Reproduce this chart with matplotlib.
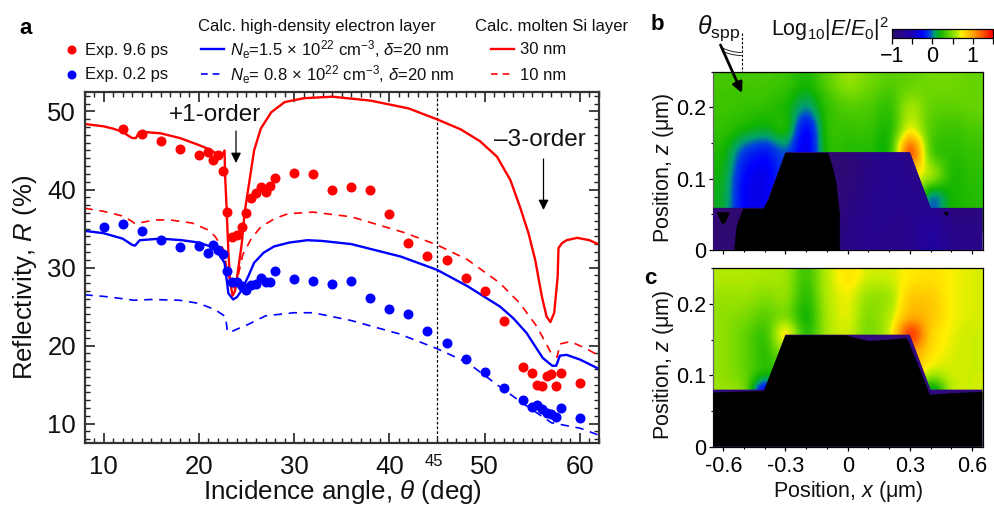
import numpy as np
import matplotlib
matplotlib.use("Agg")
import matplotlib.pyplot as plt
from matplotlib.colors import LinearSegmentedColormap
from matplotlib.patches import Polygon, Arc

plt.rcParams['font.family'] = ['Liberation Sans', 'DejaVu Sans']
plt.rcParams['mathtext.fontset'] = 'custom'
plt.rcParams['mathtext.rm'] = 'Liberation Sans'
plt.rcParams['mathtext.it'] = 'Liberation Sans:italic'
plt.rcParams['mathtext.bf'] = 'Liberation Sans:bold'

# ---- panel a data ----
exp_angle_red = [12,14,16,18,20,21,21.5,22,22.5,23,23.5,24,24.5,25,25.5,26,26.5,27,27.5,28,30,32,34,36,38,40,42,44,46,48,50,52,54,55,55.5,56,56.5,57,57.5,58,60]
exp_red = [47.8,47.1,46.2,45.2,44.4,44.8,43.8,44.4,42.4,37.1,33.9,34.2,35.2,37,38.9,39.5,40.3,39.7,40.5,41.5,42.1,42,40,40.3,40,36.9,33.1,31.5,30.9,28.6,27,23.2,17.3,16.5,15,14.8,16.1,16.4,14.8,16.5,15.2]
exp_angle_blue = [10,12,14,16,18,20,21,21.5,22,22.5,23,23.5,24,24.5,25,25.5,26,26.5,27,27.5,28,30,32,34,36,38,40,42,44,46,48,50,52,54,55,55.5,56,56.5,57,57.5,58,60]
exp_blue = [35.2,35.6,34.7,33.5,32.6,32.8,31.8,32.9,32.3,31.7,29.5,28.2,28.1,27.6,27.1,27.8,27.9,28.7,28.2,28.1,29.5,28.5,28.3,27.9,28.3,26.1,24.7,24,21.9,20.3,18.3,16.6,14.6,13,12.1,12.4,11.8,11.4,11.2,10.8,12,10.7]

molten30_x = [8,10,11,12,12.6,13,13.4,13.7,14,16,18,20,21,22,22.4,22.7,22.75,22.9,23.1,23.3,23.55,23.8,24.1,24.5,24.8,25.3,25.8,26.5,27.6,29,31,34,38,42,45,47.5,49.5,51.3,52.7,53.7,54.6,55.3,56,56.5,56.9,57.3,57.66,57.75,58.1,58.6,59.7,61,61.9]
molten30_y = [48.4,48.1,47.8,47.4,46.9,46.6,46.6,47.3,47.4,47.2,46.6,45.7,45.2,44.5,44.2,45,42,38,32,28,26.4,27,29.5,33,37,41,45,47.8,49.9,51.2,51.7,51.9,51.4,50.4,49,47.7,46.2,44.2,41.2,37.8,34.4,31,26.3,23.7,23,24.2,28.8,32.5,33.1,33.5,33.8,33.5,33]
molten10_x = [8,10,12,13,13.3,13.7,15.4,17,19.3,21,21.7,22.6,23,23.5,23.8,24.1,24.6,25.5,26.5,28,29.4,32,36,41.5,45,48.2,51.6,53.7,55.5,56.9,57.6,57.9,59,60.5,62]
molten10_y = [37.6,37.2,36.6,35.9,35.6,35.7,36.1,36.1,35.7,34.8,34,32.3,29.5,27.3,27.5,28.8,31.6,33.7,35.2,36.3,36.9,37.1,36.5,34.5,32.9,31,28,25.4,22.4,19.2,18.5,20.2,20.5,19.7,18.7]
elec15_x = [8,10,12,13,13.3,13.8,16,18.2,20,21.7,22.7,23.1,23.6,24,24.5,25.2,25.8,26.8,27.9,29.5,31.4,33,36,41.2,45,48.2,51.6,53,54.4,55.3,56.1,57.1,57.5,57.9,58.6,60,62]
elec15_y = [34.7,34.4,33.7,32.9,32.8,33.5,33.7,33.5,33.2,32.5,30.6,26.7,25.9,26.2,27.1,28.9,30.6,31.9,32.7,33.2,33.5,33.4,33,31.4,29.7,27.6,25,23.5,21.6,19.9,18.4,17.4,17.4,18.7,18.8,18.2,17]
elec08_x = [8,10,12,13.2,15,18,20,21.7,22.8,23,23.3,24,25,27,30,32,36,41,45,48.2,51.6,54,57,60,62]
elec08_y = [26.5,26.3,26,25.8,25.9,25.8,25.4,24.6,23.7,21.8,21.7,22.1,22.6,23.8,24.2,24.2,23.2,21.5,19.6,17.8,14.7,12.6,10.1,9.4,8.5]

# ---- panels b, c: field (log10 |E/E0|^2) ----
# columns are x = -0.6 ... 0.6 in steps of 0.1, first row is the top one
b_rows = [
 [0.33,0.33,0.33,0.30,0.22,0.38,0.52,0.45,0.38,0.42,0.45,0.45,0.42],
 [0.32,0.30,0.28,0.22,0.05,0.28,0.38,0.36,0.30,0.55,0.42,0.40,0.42],
 [0.28,0.20,0.15,0.20,-0.22,0.25,0.30,0.30,0.25,0.70,0.38,0.32,0.35],
 [0.20,-0.08,-0.18,-0.05,-0.30,0.22,0.25,0.25,0.27,1.20,0.40,0.27,0.30],
 [0.15,-0.22,-0.30,-0.10,-0.30,0.20,0.25,0.25,0.30,0.75,0.55,0.25,0.27],
 [0.12,-0.25,-0.30,-0.05,-0.30,0.20,0.20,0.20,0.25,0.60,0.02,0.20,0.25],
 [0.12,-0.25,-0.30,-0.05,-0.30,0.20,0.20,0.20,0.25,0.60,0.02,0.20,0.25],
]
c_rows = [
 [0.60,0.60,0.58,0.55,0.33,0.62,0.75,0.66,0.66,0.75,0.78,0.72,0.68],
 [0.55,0.55,0.50,0.52,0.28,0.60,0.70,0.55,0.58,0.85,0.85,0.72,0.68],
 [0.52,0.48,0.40,0.48,0.22,0.58,0.68,0.50,0.62,0.95,0.88,0.72,0.68],
 [0.52,0.42,0.32,0.72,0.28,0.58,0.66,0.48,0.68,1.30,0.85,0.70,0.66],
 [0.52,0.42,0.28,0.50,0.30,0.58,0.66,0.50,0.68,1.00,0.78,0.68,0.66],
 [0.52,0.42,0.22,0.30,0.30,0.58,0.66,0.50,0.68,0.90,0.62,0.66,0.66],
 [0.55,0.45,-0.25,0.30,0.30,0.58,0.66,0.50,0.68,0.80,0.10,0.60,0.66],
]
b_metal_rows = [
 [-1,-1,-1,-1,-1,-1,-0.95,-0.85,-0.7,-0.85,-0.9,-1,-1],
 [-1,-1,-1,-1,-1,-1,-0.95,-0.8,-0.7,-0.75,-0.8,-1,-1],
 [-1,-1,-1,-1,-1,-1,-0.85,-0.75,-0.75,-0.8,-0.65,-0.9,-0.85],
 [-0.95,-1,-1,-1,-1,-1,-0.8,-0.75,-0.8,-0.8,-0.55,-0.8,-0.8],
]
b_z_step, c_z_step = 0.0323, 0.02657
b_metal = [(-0.65,0),(-0.65,0.059),(-0.4,0.059),(-0.3,0.137),(0.3,0.137),(0.4,0.059),(0.65,0.059),(0.65,0)]
b_black = [(-0.547,0),(-0.536,0.033),(-0.504,0.058),(-0.407,0.058),(-0.383,0.07),(-0.3,0.136),(-0.094,0.136),(-0.078,0.122),(-0.054,0.094),(-0.038,0.051),(-0.038,0)]
b_blob1 = [(-0.632,0.053),(-0.568,0.053),(-0.59,0.038),(-0.605,0.036)]
b_blob2 = [(0.462,0.054),(0.49,0.052),(0.475,0.047)]
c_metal = [(-0.65,0),(-0.65,0.08),(-0.4,0.08),(-0.3,0.157),(0.3,0.157),(0.4,0.08),(0.65,0.08),(0.65,0)]
c_black = [(-0.65,0),(-0.65,0.076),(-0.405,0.078),(-0.3,0.156),(-0.01,0.156),(0.1,0.148),(0.2,0.15),(0.28,0.152),(0.29,0.15),(0.397,0.0725),(0.5,0.075),(0.65,0.077),(0.65,0)]

cbar_ticks = [-1, 0, 1]
cmap = LinearSegmentedColormap.from_list('field', [
    (0.00,'#300a70'),(0.20,'#1c00b0'),(0.30,'#0000ff'),(0.37,'#0040e0'),(0.42,'#00a070'),
    (0.48,'#10b400'),(0.58,'#70d800'),(0.66,'#c4ee00'),(0.69,'#fff000'),(0.82,'#ff9800'),(1.00,'#ff0000')])

W, H = 994, 508
fig = plt.figure(figsize=(W/100, H/100), dpi=100)
def axpx(l, t, r, b, **kw):
    return fig.add_axes([l/W, 1-b/H, (r-l)/W, (b-t)/H], **kw)

RED, BLUE = '#ff0000', '#0000ff'
ax = axpx(84.5, 92, 599, 443)
ax.set_xlim(8, 62); ax.set_ylim(7.5, 52.5)
ax.plot(molten10_x, molten10_y, color=RED, lw=1.2, dashes=(5, 4))
ax.plot(elec08_x, elec08_y, color=BLUE, lw=1.2, dashes=(5, 4))
ax.plot(elec15_x, elec15_y, color=BLUE, lw=1.7)
ax.plot(molten30_x, molten30_y, color=RED, lw=1.7)
ax.scatter(exp_angle_red, exp_red, s=52, color=RED, lw=0, zorder=4)
ax.scatter(exp_angle_blue, exp_blue, s=52, color=BLUE, lw=0, zorder=4)
ax.axvline(45, color='k', lw=0.9, dashes=(2.2, 1.6), zorder=1)
ax.set_xticks(range(10, 61, 10)); ax.set_yticks(range(10, 51, 10))
ax.set_xticks(range(8, 63), minor=True); ax.set_yticks(range(8, 53), minor=True)
ax.tick_params(which='major', direction='in', top=True, right=True, length=7, width=1.2, labelsize=18.5, pad=9, color='#222222', labelcolor='#111111')
ax.tick_params(axis='y', which='major', pad=6)
ax.tick_params(which='minor', direction='in', top=True, right=True, length=3.5, width=1.0, color='#222222')
for s in ax.spines.values():
    s.set_linewidth(1.6); s.set_color('#333333')

def field_panel(a, rows, z_step, metal, blacks, metal_rows=None):
    rows = np.array(rows)
    a.imshow(rows, cmap=cmap, vmin=-1, vmax=1.5, interpolation='catrom', interpolation_stage='data', aspect='auto',
             extent=(-0.65, 0.65, 0.25 - z_step*rows.shape[0], 0.25), origin='upper', zorder=1)
    patch = Polygon(metal, closed=True, fc='#300a7c', ec='none', zorder=3)
    a.add_patch(patch)
    if metal_rows is not None:
        im = a.imshow(np.array(metal_rows), cmap=cmap, vmin=-1, vmax=1.5, interpolation='bicubic', aspect='auto',
                      extent=(-0.65, 0.65, 0, 0.14), origin='upper', zorder=3.5)
        im.set_clip_path(patch)
    for poly in blacks:
        a.add_patch(Polygon(poly, closed=True, fc='k', ec='none', zorder=4))
    a.set_xlim(-0.651, 0.651); a.set_ylim(0, 0.25)
    a.set_xticks([-0.6,-0.3,0,0.3,0.6]); a.set_yticks([0,0.1,0.2])
    a.set_yticklabels(['0','0.1','0.2'])
    a.set_xticks(np.arange(-0.6,0.61,0.1), minor=True); a.set_yticks([0.05,0.15,0.25], minor=True)
    a.tick_params(which='major', direction='out', length=3, width=0.9, labelsize=15.5, pad=2)
    a.tick_params(axis='x', which='major', pad=4)
    a.tick_params(which='minor', direction='out', length=1.5, width=0.8)
    for s in a.spines.values():
        s.set_linewidth(0.9); s.set_color('k')
    a.spines['left'].set_color('#666666')

axb = axpx(712.7, 71.7, 982.7, 250)
field_panel(axb, b_rows, b_z_step, b_metal, [b_black, b_blob1, b_blob2], b_metal_rows)
axb.tick_params(axis='x', labelbottom=False)
axc = axpx(712.7, 268.3, 982.7, 446.7)
field_panel(axc, c_rows, c_z_step, c_metal, [c_black])
axc.set_xticklabels(['-0.6','-0.3','0','0.3','0.6'])

# colour bar
cax = axpx(892, 29, 993, 37.5)
sm = plt.cm.ScalarMappable(norm=plt.Normalize(-1, 1.5), cmap=cmap)
cb = fig.colorbar(sm, cax=cax, orientation='horizontal')
cb.set_ticks(cbar_ticks); cb.set_ticklabels(['\u22121','0','1'])
cb.ax.set_xticks([-0.5,0.5,1.5], minor=True)
cb.ax.tick_params(which='major', length=4, width=0.9, labelsize=15.5, pad=2)
cb.ax.tick_params(which='minor', length=4, width=0.9)
cb.outline.set_linewidth(0.9)

# overlay in pixel coordinates for annotations and legend
ov = fig.add_axes([0, 0, 1, 1], zorder=10)
ov.set_xlim(0, W); ov.set_ylim(H, 0); ov.axis('off'); ov.patch.set_alpha(0)
def T(x, y, s, size=12, **kw):
    kw.setdefault('va', 'center'); kw.setdefault('ha', 'left'); kw.setdefault('color', '#111111')
    ov.text(x, y, s, fontsize=size, **kw)

T(19, 29, 'a', 16, fontweight='bold', color='k')
T(651, 24, 'b', 16, fontweight='bold', color='k')
T(644, 279, 'c', 16, fontweight='bold', color='k')

T(198, 27, 'Calc. high-density electron layer', 12)
T(475, 27, 'Calc. molten Si layer', 12)
ov.scatter([72, 72], [50, 75], s=42, color=[RED, BLUE], lw=0)
T(85, 50, 'Exp. 9.6 ps', 12); T(85, 75, 'Exp. 0.2 ps', 12)
ov.plot([201, 224], [49, 49], color=BLUE, lw=1.7)
ov.plot([201, 224], [74, 74], color=BLUE, lw=1.2, dashes=(4, 3))
ov.plot([491, 514], [49, 49], color=RED, lw=1.7)
ov.plot([491, 514], [74, 74], color=RED, lw=1.2, dashes=(4, 3))
T(230, 50, r'$\mathit{N}_{\mathrm{e}}$=1.5$\,\times\,$10$^{22}$ cm$^{-3}$, $\mathit{\delta}$=20 nm', 12)
T(230, 75, r'$\mathit{N}_{\mathrm{e}}$= 0.8$\,\times\,$10$^{22}$ cm$^{-3}$, $\mathit{\delta}$=20 nm', 12)
T(520, 50, '30 nm', 12); T(520, 75, '10 nm', 12)

T(169, 115, '+1-order', 17.5)
T(494, 140, '\u20133-order', 17.5)
T(425, 461, '45', 12)
ov.annotate('', xy=(236, 163), xytext=(236, 131), arrowprops=dict(arrowstyle='-|>,head_width=0.3,head_length=0.6', color='k', lw=0.9, shrinkA=0, shrinkB=0))
ov.annotate('', xy=(543.5, 210), xytext=(543.5, 159), arrowprops=dict(arrowstyle='-|>,head_width=0.3,head_length=0.6', color='k', lw=0.9, shrinkA=0, shrinkB=0))

T(697, 28, r'$\mathit{\theta}_{\mathrm{spp}}$', 18)
T(771, 29, r'Log$_{10}$|$\mathit{E}$/$\mathit{E}_{0}$|$^{2}$', 15.5)
ov.plot([741.7, 741.7], [33, 72], color='k', lw=0.8, dashes=(2.2, 1.6))
ov.annotate('', xy=(742, 93), xytext=(720.5, 45), arrowprops=dict(arrowstyle='-|>,head_width=0.3,head_length=0.6', color='k', lw=2, shrinkA=0, shrinkB=0))
ov.add_patch(Arc((741.7, 10), 85, 85, theta1=90, theta2=118, color='k', lw=0.6))
ov.add_patch(Arc((741.7, 10), 91, 91, theta1=90, theta2=116, color='k', lw=0.6))

ov.text(25, 277, r'Reflectivity, $\mathit{R}$ (%)', fontsize=18.5, rotation=90, va='center', ha='center', color='#111111')
ov.text(342, 492, r'Incidence angle, $\mathit{\theta}$ (deg)', fontsize=18.7, va='center', ha='center', color='#111111')
zlab = r'Position, $\mathit{z}$ ($\mathrm{\mu}$m)'
ov.text(663, 168, zlab, fontsize=15.5, rotation=90, va='center', ha='center', color='#111111')
ov.text(663, 365, zlab, fontsize=15.5, rotation=90, va='center', ha='center', color='#111111')
ov.text(848, 492, r'Position, $\mathit{x}$ ($\mathrm{\mu}$m)', fontsize=15.5, va='center', ha='center', color='#111111')

fig.savefig('out.png', dpi=100)
